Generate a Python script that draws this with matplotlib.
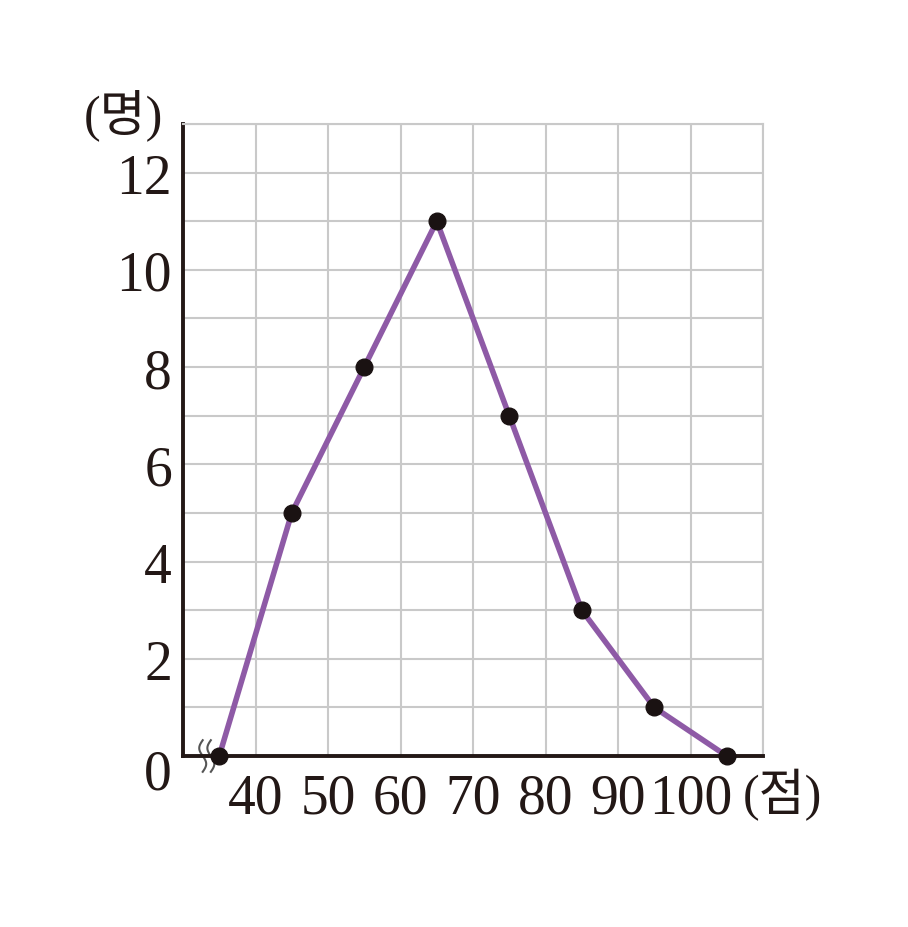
import numpy as np
import matplotlib.pyplot as plt

plt.rcParams['font.family'] = ['Liberation Serif', 'Noto Sans CJK KR']

# class midpoints (점) and number of students (명)
scores = [35, 45, 55, 65, 75, 85, 95, 105]
counts = [0, 5, 8, 11, 7, 3, 1, 0]
x_ticks = [40, 50, 60, 70, 80, 90, 100]
y_ticks = [2, 4, 6, 8, 10, 12]

line_color = '#8e5aa6'
dot_color = '#1a1212'
grid_color = '#c9c9c9'
ink = '#231816'

fig = plt.figure(figsize=(9.08, 9.28), dpi=100)
ax = fig.add_axes([183 / 908, 1 - 757 / 928, 580 / 908, 632 / 928])
ax.set_xlim(30, 110)
ax.set_ylim(0, 13)

# grid: every 10 points across, every 1 person up
for gx in range(40, 111, 10):
    ax.axvline(gx, color=grid_color, lw=1.5, zorder=1)
for gy in range(1, 14):
    ax.axhline(gy, color=grid_color, lw=1.5, zorder=1)

ax.plot(scores, counts, color=line_color, lw=4, zorder=3, clip_on=False)
ax.plot(scores, counts, 'o', color=dot_color, ms=12, zorder=4, clip_on=False)

for s in ['top', 'right']:
    ax.spines[s].set_color(grid_color)
    ax.spines[s].set_linewidth(1.5)
for s in ['left', 'bottom']:
    ax.spines[s].set_color(ink)
    ax.spines[s].set_linewidth(2.8)

ax.set_xticks(x_ticks)
ax.set_xticklabels([str(v) for v in x_ticks])
ax.set_yticks(y_ticks)
ax.set_yticklabels([str(v) for v in y_ticks])
ax.tick_params(which='both', length=0)
ax.tick_params(axis='x', pad=12, labelsize=40, labelcolor=ink)
ax.tick_params(axis='y', pad=8, labelsize=40, labelcolor=ink)

ax.text(-0.019, -0.03, '0', transform=ax.transAxes, ha='right', va='center',
        fontsize=40, color=ink)
ax.text(1.033, -0.06, '(점)', transform=ax.transAxes, ha='center', va='center',
        fontsize=36, color=ink)
ax.text(-0.103, 1.016, '(명)', transform=ax.transAxes, ha='center', va='center',
        fontsize=36, color=ink)

# axis break mark on the x-axis
t = np.linspace(0, 1, 40)
for dx in [0.0, 0.014]:
    xs = 0.034 + dx + 0.006 * np.sin(t * 2 * np.pi)
    ys = -0.025 + 0.05 * t
    ax.plot(xs, ys, transform=ax.transAxes, color='#555555', lw=1.5,
            clip_on=False, zorder=2)

fig.savefig('out.png', dpi=100)
